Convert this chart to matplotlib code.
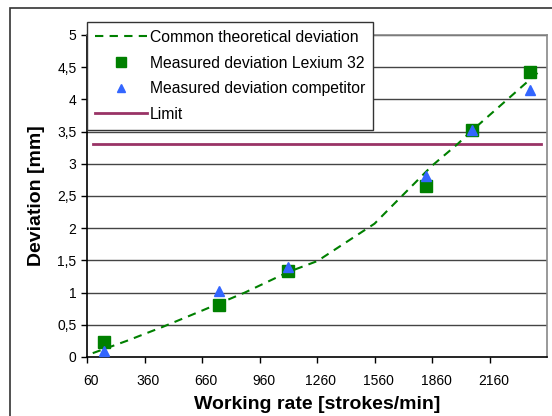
import matplotlib
matplotlib.use("Agg")
import matplotlib.pyplot as plt
import matplotlib.transforms as mtransforms
from matplotlib.patches import Rectangle

plt.rcParams["font.family"] = ["Liberation Sans", "DejaVu Sans"]

# theoretical curve
theory_x = [90, 267, 457, 660, 883, 1110, 1262, 1560, 1643, 1860, 1991, 2070, 2242, 2425]
theory_y = [0.06, 0.25, 0.47, 0.72, 1.00, 1.32, 1.49, 2.07, 2.32, 2.97, 3.30, 3.52, 3.97, 4.45]

# measured points
meas_x = [150, 750, 1110, 1830, 2070, 2370]
lexium_y = [0.24, 0.80, 1.34, 2.66, 3.52, 4.43]
competitor_y = [0.10, 1.02, 1.39, 2.81, 3.53, 4.14]

limit_x = [90, 2430]
limit_y = [3.3, 3.3]

x_ticks = [60, 360, 660, 960, 1260, 1560, 1860, 2160]
y_ticks = [0, 0.5, 1, 1.5, 2, 2.5, 3, 3.5, 4, 4.5, 5]
y_labels = ["0", "0,5", "1", "1,5", "2", "2,5", "3", "3,5", "4", "4,5", "5"]

fig = plt.figure(figsize=(5.52, 4.16), dpi=100)
ax = fig.add_axes([87 / 552, 1 - 357 / 416, (547 - 87) / 552, (357 - 35) / 416])

# outer chart frame (runs off the right/bottom edge)
fig.patches.append(Rectangle((10 / 552, -0.1), 1.2, 1 - 8 / 416 + 0.1,
                             transform=fig.transFigure, fill=False,
                             edgecolor="#333333", linewidth=1.2))

for y in y_ticks[1:]:
    ax.axhline(y, color="#444444", linewidth=1.0, zorder=1)

ax.plot(theory_x, theory_y, linestyle=(0, (4, 3)), color="#008000", linewidth=1.5,
        label="Common theoretical deviation", zorder=3)
ax.plot(meas_x, lexium_y, linestyle="none", marker="s", markersize=8.5,
        color="#008000", label="Measured deviation Lexium 32", zorder=4)
ax.plot(meas_x, competitor_y, linestyle="none", marker="^", markersize=7,
        color="#3366FF", label="Measured deviation competitor", zorder=5)
ax.plot(limit_x, limit_y, color="#993366", linewidth=2, label="Limit", zorder=2)

ax.set_xlim(60, 2460)
ax.set_ylim(0, 5)
ax.set_xticks(x_ticks)
ax.set_yticks(y_ticks)
ax.set_yticklabels(y_labels)
ax.tick_params(direction="out", length=4, width=1, labelsize=10, color="black")
ax.tick_params(axis="x", pad=8)
shift = mtransforms.ScaledTranslation(4 / 100, 0, fig.dpi_scale_trans)
for lbl in ax.get_xticklabels():
    lbl.set_transform(lbl.get_transform() + shift)

ax.spines["left"].set_color("black")
ax.spines["bottom"].set_color("black")
ax.spines["top"].set_color("#888888")
ax.spines["right"].set_color("#888888")
for s in ax.spines.values():
    s.set_linewidth(1.2)

ax.set_xlabel("Working rate [strokes/min]", fontsize=14, fontweight="bold", labelpad=6)
ax.set_ylabel("Deviation [mm]", fontsize=14, fontweight="bold", labelpad=9)

leg = ax.legend(loc="upper left", bbox_to_anchor=(87 / 552, 1 - 22 / 416),
                bbox_transform=fig.transFigure, borderaxespad=0, fontsize=11.3,
                frameon=True, fancybox=False, framealpha=1, edgecolor="#333333",
                handlelength=3.3, handletextpad=0.2, labelspacing=0.68,
                borderpad=0.5, markerscale=0.9)
leg.get_frame().set_linewidth(1.0)
leg.set_zorder(10)

fig.savefig("out.png", dpi=100)
